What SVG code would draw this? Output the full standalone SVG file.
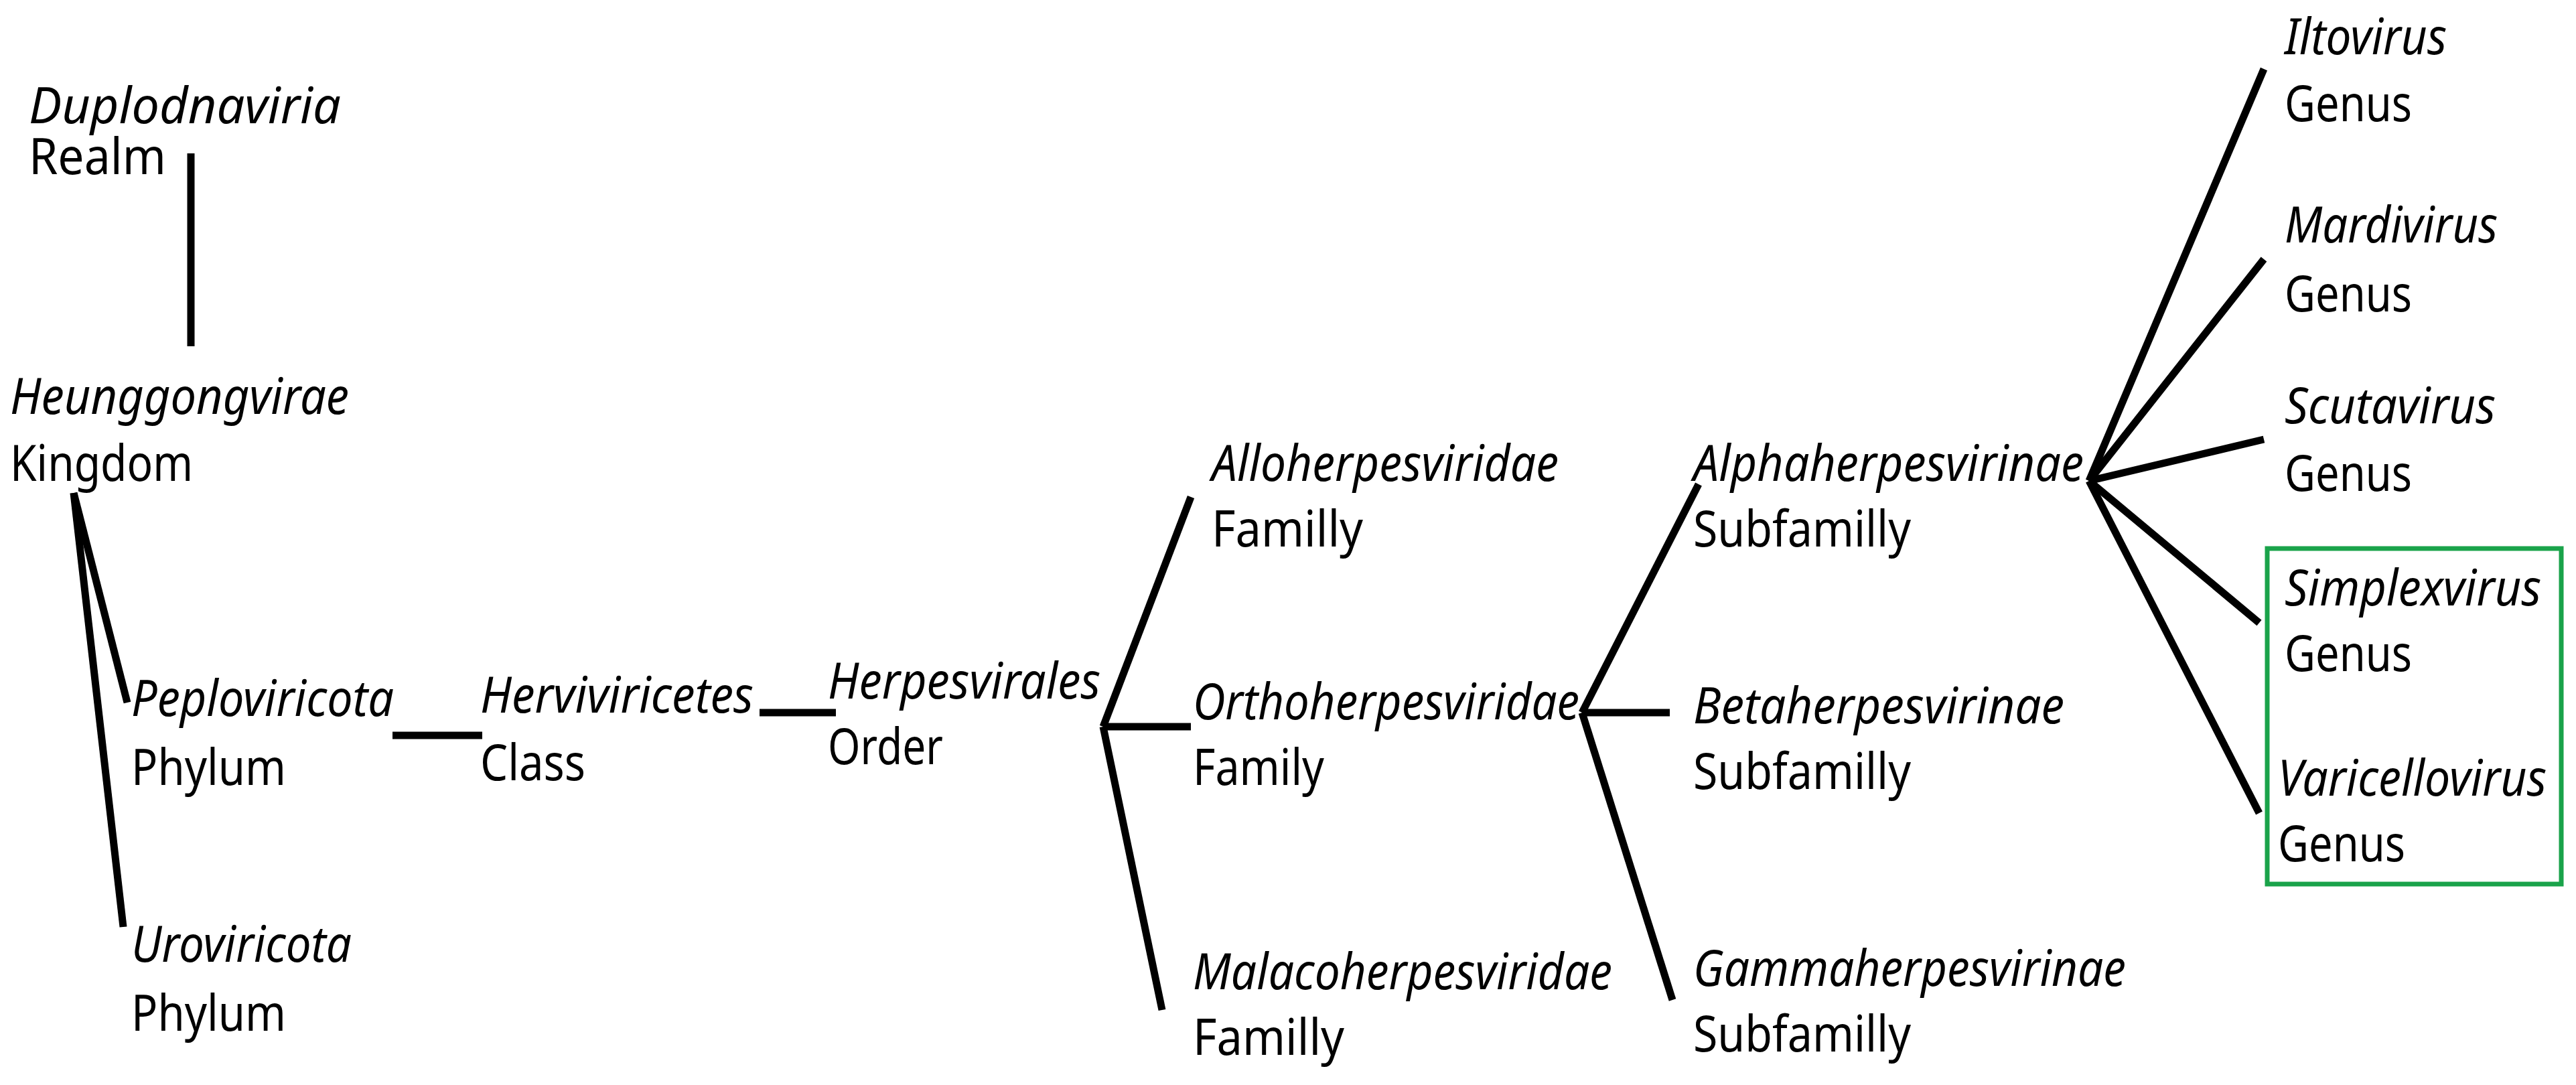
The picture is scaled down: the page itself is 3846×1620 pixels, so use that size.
<svg xmlns="http://www.w3.org/2000/svg" width="3846" height="1620" viewBox="0 0 3846 1620">
<style>
text{font-family:"Noto Sans","Open Sans",sans-serif;font-size:74px;fill:#000}
.i{font-style:italic}
.c line{stroke:#000;stroke-width:11;stroke-linecap:butt}
</style>
<rect width="3846" height="1620" fill="#fff"/>
<g class="c" id="connectors">
<line x1="285" y1="229" x2="285" y2="517"/>
<line x1="110" y1="736" x2="190" y2="1049"/>
<line x1="110" y1="736" x2="184" y2="1384"/>
<line x1="586" y1="1098" x2="720" y2="1098"/>
<line x1="1134" y1="1064" x2="1248" y2="1064"/>
<line x1="1647" y1="1085" x2="1778" y2="742"/>
<line x1="1647" y1="1085" x2="1778" y2="1085"/>
<line x1="1647" y1="1085" x2="1735" y2="1508"/>
<line x1="2362" y1="1064" x2="2536" y2="723"/>
<line x1="2362" y1="1064" x2="2493" y2="1064"/>
<line x1="2362" y1="1064" x2="2497" y2="1493"/>
<line x1="3119" y1="718" x2="3380" y2="103"/>
<line x1="3119" y1="718" x2="3380" y2="387"/>
<line x1="3119" y1="718" x2="3380" y2="656"/>
<line x1="3119" y1="718" x2="3373" y2="930"/>
<line x1="3119" y1="718" x2="3373" y2="1214"/>
</g>
<g id="realm"><text class="i" x="43" y="184" textLength="466" lengthAdjust="spacingAndGlyphs">Duplodnaviria</text><text x="43" y="260" textLength="205" lengthAdjust="spacingAndGlyphs">Realm</text></g>
<g id="kingdom"><text class="i" x="15" y="618" textLength="506" lengthAdjust="spacingAndGlyphs">Heunggongvirae</text><text x="15" y="718" textLength="273" lengthAdjust="spacingAndGlyphs">Kingdom</text></g>
<g id="peploviricota"><text class="i" x="196" y="1069" textLength="392" lengthAdjust="spacingAndGlyphs">Peploviricota</text><text x="196" y="1172" textLength="231" lengthAdjust="spacingAndGlyphs">Phylum</text></g>
<g id="uroviricota"><text class="i" x="196" y="1436" textLength="329" lengthAdjust="spacingAndGlyphs">Uroviricota</text><text x="196" y="1539" textLength="231" lengthAdjust="spacingAndGlyphs">Phylum</text></g>
<g id="herviviricetes"><text class="i" x="717" y="1064" textLength="408" lengthAdjust="spacingAndGlyphs">Herviviricetes</text><text x="717" y="1165" textLength="157" lengthAdjust="spacingAndGlyphs">Class</text></g>
<g id="herpesvirales"><text class="i" x="1236" y="1043" textLength="407" lengthAdjust="spacingAndGlyphs">Herpesvirales</text><text x="1236" y="1141" textLength="172" lengthAdjust="spacingAndGlyphs">Order</text></g>
<g id="allo"><text class="i" x="1809" y="718" textLength="518" lengthAdjust="spacingAndGlyphs">Alloherpesviridae</text><text x="1809" y="816" textLength="226" lengthAdjust="spacingAndGlyphs">Familly</text></g>
<g id="ortho"><text class="i" x="1781" y="1074" textLength="577" lengthAdjust="spacingAndGlyphs">Orthoherpesviridae</text><text x="1781" y="1172" textLength="196" lengthAdjust="spacingAndGlyphs">Family</text></g>
<g id="malaco"><text class="i" x="1781" y="1477" textLength="626" lengthAdjust="spacingAndGlyphs">Malacoherpesviridae</text><text x="1781" y="1575" textLength="226" lengthAdjust="spacingAndGlyphs">Familly</text></g>
<g id="alpha"><text class="i" x="2528" y="718" textLength="583" lengthAdjust="spacingAndGlyphs">Alphaherpesvirinae</text><text x="2528" y="816" textLength="325" lengthAdjust="spacingAndGlyphs">Subfamilly</text></g>
<g id="beta"><text class="i" x="2528" y="1080" textLength="554" lengthAdjust="spacingAndGlyphs">Betaherpesvirinae</text><text x="2528" y="1178" textLength="325" lengthAdjust="spacingAndGlyphs">Subfamilly</text></g>
<g id="gamma"><text class="i" x="2528" y="1472" textLength="646" lengthAdjust="spacingAndGlyphs">Gammaherpesvirinae</text><text x="2528" y="1570" textLength="325" lengthAdjust="spacingAndGlyphs">Subfamilly</text></g>
<g id="iltovirus"><text class="i" x="3411" y="81" textLength="242" lengthAdjust="spacingAndGlyphs">Iltovirus</text><text x="3411" y="181" textLength="190" lengthAdjust="spacingAndGlyphs">Genus</text></g>
<g id="mardivirus"><text class="i" x="3411" y="362" textLength="318" lengthAdjust="spacingAndGlyphs">Mardivirus</text><text x="3411" y="465" textLength="190" lengthAdjust="spacingAndGlyphs">Genus</text></g>
<g id="scutavirus"><text class="i" x="3411" y="632" textLength="315" lengthAdjust="spacingAndGlyphs">Scutavirus</text><text x="3411" y="733" textLength="190" lengthAdjust="spacingAndGlyphs">Genus</text></g>
<g id="simplexvirus"><text class="i" x="3411" y="904" textLength="383" lengthAdjust="spacingAndGlyphs">Simplexvirus</text><text x="3411" y="1002" textLength="190" lengthAdjust="spacingAndGlyphs">Genus</text></g>
<g id="varicellovirus"><text class="i" x="3401" y="1188" textLength="401" lengthAdjust="spacingAndGlyphs">Varicellovirus</text><text x="3401" y="1286" textLength="190" lengthAdjust="spacingAndGlyphs">Genus</text></g>
<rect id="highlight" x="3385" y="819" width="439" height="501" fill="none" stroke="#1aa34a" stroke-width="7"/>
</svg>
